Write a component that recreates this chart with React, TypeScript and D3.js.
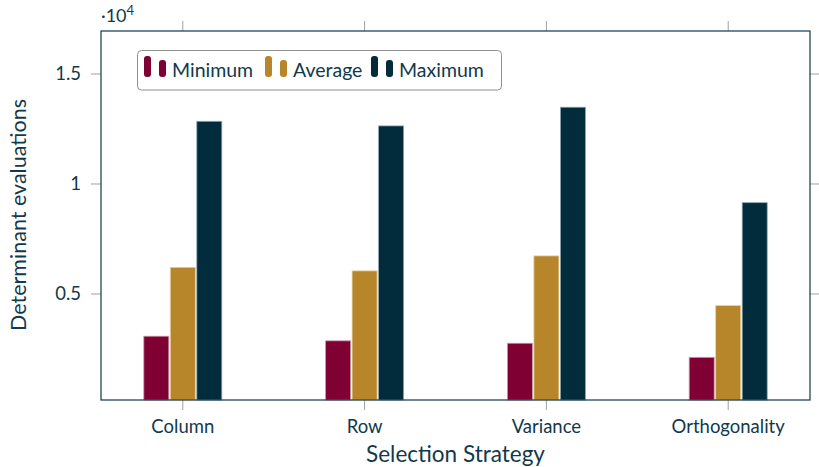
import React, { useEffect, useRef } from 'react';
import * as d3 from 'd3';

const strategies = ['Column', 'Row', 'Variance', 'Orthogonality'];
const seriesNames = ['Minimum', 'Average', 'Maximum'];
const minimum = [3080, 2870, 2760, 2120];
const average = [6210, 6050, 6730, 4470];
const maximum = [12850, 12640, 13490, 9150];
const yTicks = [5000, 10000, 15000];
const yTickLabels = ['0.5', '1', '1.5'];

const colors = ['#7f0032', '#b7862a', '#022b3c'];
const strokes = ['#c99aa8', '#e3cf9e', '#8fa4ae'];
const textColor = '#12394b';
const font = 'Lato, "DejaVu Sans", sans-serif';

const width = 819;
const height = 467;
const margin = { top: 31, right: 9, bottom: 67, left: 101 };

export default function App() {
  const ref = useRef<SVGSVGElement>(null);

  useEffect(() => {
    const svg = d3.select(ref.current);
    svg.selectAll('*').remove();

    const innerW = width - margin.left - margin.right;
    const innerH = height - margin.top - margin.bottom;
    const values = [minimum, average, maximum];

    const x = d3.scalePoint<string>().domain(strategies).range([0, innerW]).padding(0.45);
    const y = d3.scaleLinear().domain([180, 16955]).range([innerH, 0]);
    const barW = 25;
    const offset = 26.5;

    const g = svg.append('g').attr('transform', `translate(${margin.left},${margin.top})`);

    // bars
    values.forEach((vals, s) => {
      g.append('g').selectAll('rect').data(vals).enter().append('rect')
        .attr('x', (d, i) => (x(strategies[i]) as number) + (s - 1) * offset - barW / 2)
        .attr('y', d => y(d))
        .attr('width', barW)
        .attr('height', d => innerH - y(d))
        .attr('fill', colors[s])
        .attr('stroke', strokes[s])
        .attr('stroke-width', 0.8);
    });

    // ticks (left/right/top/bottom, outside)
    const tickColor = '#a0a0a0';
    yTicks.forEach(t => {
      g.append('line').attr('x1', -10).attr('x2', 0).attr('y1', y(t)).attr('y2', y(t))
        .attr('stroke', tickColor).attr('stroke-width', 1);
      g.append('line').attr('x1', innerW).attr('x2', innerW + 10).attr('y1', y(t)).attr('y2', y(t))
        .attr('stroke', tickColor).attr('stroke-width', 1);
    });
    strategies.forEach(c => {
      const cx = x(c) as number;
      g.append('line').attr('x1', cx).attr('x2', cx).attr('y1', -10).attr('y2', 0)
        .attr('stroke', tickColor).attr('stroke-width', 1);
      g.append('line').attr('x1', cx).attr('x2', cx).attr('y1', innerH).attr('y2', innerH + 10)
        .attr('stroke', tickColor).attr('stroke-width', 1);
    });

    // frame
    g.append('rect').attr('x', 0).attr('y', 0).attr('width', innerW).attr('height', innerH)
      .attr('fill', 'none').attr('stroke', '#0d3a4e').attr('stroke-width', 1.2);

    // tick labels
    g.selectAll('.ylab').data(yTicks).enter().append('text')
      .attr('x', -20).attr('y', d => y(d)).attr('dy', '0.35em')
      .attr('text-anchor', 'end').attr('font-size', 18.5).attr('font-family', font)
      .attr('fill', textColor).text((d, i) => yTickLabels[i]);

    g.selectAll('.xlab').data(strategies).enter().append('text')
      .attr('x', d => x(d) as number).attr('y', innerH + 33)
      .attr('text-anchor', 'middle').attr('font-size', 18.5).attr('font-family', font)
      .attr('fill', textColor).text(d => d);

    // scale factor
    const sf = svg.append('text').attr('x', 101).attr('y', 22)
      .attr('font-size', 18).attr('font-family', font).attr('fill', textColor);
    sf.append('tspan').text('·10');
    sf.append('tspan').attr('dy', -7).attr('font-size', 13).text('4');

    // axis labels
    svg.append('text').attr('x', margin.left + innerW / 2).attr('y', 462)
      .attr('text-anchor', 'middle').attr('font-size', 22.5).attr('font-family', font)
      .attr('fill', textColor).text('Selection Strategy');
    svg.append('text')
      .attr('transform', `translate(26,${(93 + 337) / 2}) rotate(-90)`)
      .attr('text-anchor', 'middle').attr('font-size', 21.5).attr('font-family', font)
      .attr('fill', textColor).text('Determinant evaluations');

    // legend
    const lg = svg.append('g');
    lg.append('rect').attr('x', 137.5).attr('y', 50.5).attr('width', 364).attr('height', 39.5)
      .attr('rx', 4).attr('fill', 'white').attr('stroke', '#909090').attr('stroke-width', 1);
    const itemX = [144, 265, 371];
    seriesNames.forEach((name, s) => {
      const ix = itemX[s];
      lg.append('rect').attr('x', ix).attr('y', 56).attr('width', 7).attr('height', 21)
        .attr('rx', 3).attr('fill', colors[s]);
      lg.append('rect').attr('x', ix + 15).attr('y', 60).attr('width', 7).attr('height', 17)
        .attr('rx', 3).attr('fill', colors[s]);
      lg.append('text').attr('x', ix + 28).attr('y', 77)
        .attr('font-size', 19.5).attr('font-family', font).attr('fill', textColor).text(name);
    });
  }, []);

  return (
    <svg ref={ref} width={width} height={height}
      style={{ position: 'absolute', left: 0, top: 0, background: 'white' }} />
  );
}
